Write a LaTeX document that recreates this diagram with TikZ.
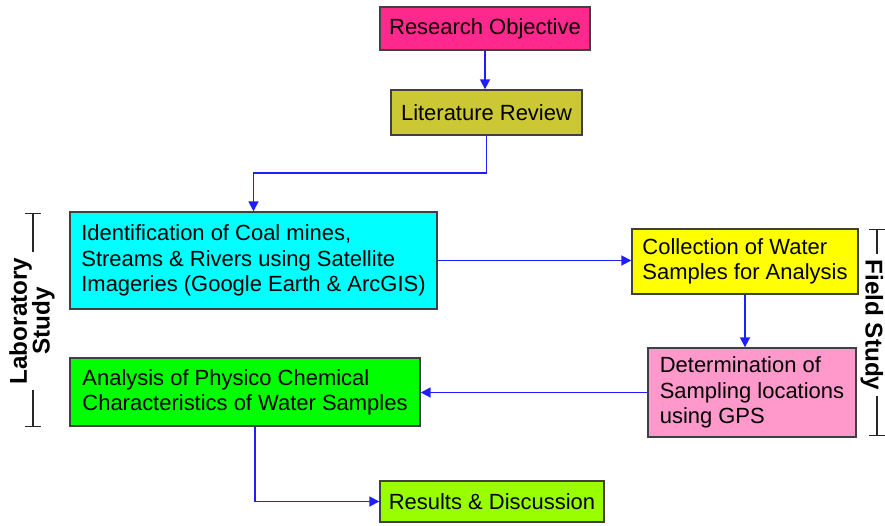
\documentclass[tikz,border=0pt]{standalone}
\usepackage{fontspec}
\setmainfont{Liberation Sans}
\usetikzlibrary{positioning,arrows.meta}

\definecolor{objpink}{RGB}{255,40,140}
\definecolor{litolive}{RGB}{204,200,51}
\definecolor{identcyan}{RGB}{0,255,255}
\definecolor{collyellow}{RGB}{255,255,0}
\definecolor{detpink}{RGB}{255,153,204}
\definecolor{anagreen}{RGB}{0,255,0}
\definecolor{resgreen}{RGB}{153,255,0}
\definecolor{flowblue}{RGB}{30,30,255}

\begin{document}
\begin{tikzpicture}[
    every node/.style={font=\fontsize{12.5}{14.4}\selectfont},
    box/.style={rectangle, draw=black!75, line width=0.8pt, align=left, inner sep=0.12cm, minimum width=#1},
    arrow/.style={-{Triangle[length=2mm,width=2mm]}, line width=1pt, color=flowblue},
    sidebar/.style={line width=0.7pt, color=black!85},
    sidelabel/.style={font=\bfseries\fontsize{13.8}{13}\selectfont, align=center, inner sep=3pt}
]

\useasboundingbox (0,0) rectangle (17.7,-10.5);

% Top of the flow
\node[box=4.2cm, minimum height=0.86cm, fill=objpink] (obj) at (9.70,-0.57) {Research Objective};
\node[box=3.82cm, minimum height=0.9cm, fill=litolive] (lit) at (9.73,-2.25) {Literature Review};

% Laboratory side (left column)
\node[box=7.34cm, minimum height=1.94cm, fill=identcyan] (ident) at (5.07,-5.21)
    {Identification of Coal mines,\\Streams \& Rivers using Satellite\\Imageries (Google Earth \& ArcGIS)};
\node[box=7cm, minimum height=1.36cm, fill=anagreen] (ana) at (4.90,-7.84)
    {Analysis of Physico Chemical\\Characteristics of Water Samples};

% Field side (right column)
\node[box=4.52cm, minimum height=1.3cm, fill=collyellow] (coll) at (14.90,-5.23)
    {Collection of Water\\Samples for Analysis};
\node[box=4.16cm, minimum height=1.78cm, fill=detpink] (det) at (15.04,-7.85)
    {Determination of\\Sampling locations\\using GPS};

% Result
\node[box=4.48cm, minimum height=0.82cm, fill=resgreen] (res) at (9.84,-10.03) {Results \& Discussion};

% Flow arrows
\draw[arrow] (obj.south) -- (obj.south |- lit.north);
\draw[arrow] (lit.south) -- ++(0,-0.74) -| (ident.north);
\draw[arrow] (ident.east) -- (ident.east -| coll.west);
\draw[arrow] (coll.south) -- (coll.south |- det.north);
\draw[arrow] (det.west) -- (det.west -| ana.east);
\draw[arrow] ([xshift=0.2cm]ana.south) |- (res.west);

% Side brackets
\coordinate (labtop) at (0.66,-4.26);
\coordinate (labbot) at (0.66,-8.54);
\node[sidelabel, rotate=90] (lab) at (0.64,-6.42) {Laboratory\\Study};
\draw[sidebar, {Bar[width=3.2mm]}-] (labtop) -- (labtop |- lab.east);
\draw[sidebar, -{Bar[width=3.2mm]}] (labbot |- lab.west) -- (labbot);

\coordinate (fieldtop) at (17.54,-4.58);
\coordinate (fieldbot) at (17.54,-8.72);
\node[sidelabel, rotate=-90] (field) at (17.44,-6.50) {Field Study};
\draw[sidebar, {Bar[width=3.2mm]}-] (fieldtop) -- (fieldtop |- field.west);
\draw[sidebar, -{Bar[width=3.2mm]}] (fieldbot |- field.east) -- (fieldbot);

\end{tikzpicture}
\end{document}
